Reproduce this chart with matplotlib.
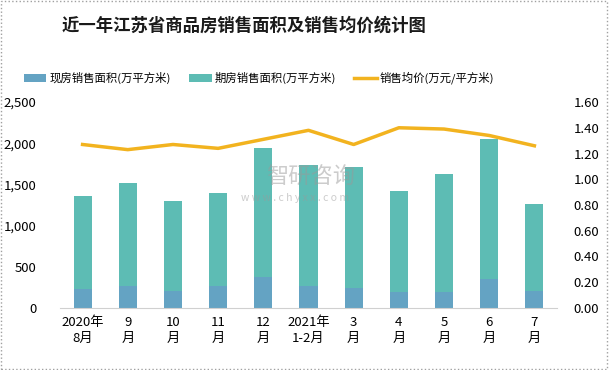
import matplotlib.pyplot as plt
from matplotlib.patches import Rectangle
from matplotlib.ticker import FuncFormatter

plt.rcParams['font.family'] = ['Noto Sans CJK SC', 'DejaVu Sans']

# 月份标签
months = ['2020年\n8月', '9\n月', '10\n月', '11\n月', '12\n月', '2021年\n1-2月',
          '3\n月', '4\n月', '5\n月', '6\n月', '7\n月']

# 现房 / 期房销售面积 (万平方米), 销售均价 (万元/平方米)
current_area = [231, 267, 206, 267, 376, 267, 243, 194, 194, 352, 206]
future_area = [1128, 1250, 1093, 1129, 1566, 1468, 1468, 1226, 1432, 1699, 1056]
avg_price = [1.27, 1.23, 1.27, 1.24, 1.31, 1.38, 1.27, 1.40, 1.39, 1.34, 1.26]

c_blue = '#64A3C3'
c_teal = '#5DBCB4'
c_gold = '#F2B31F'

fig = plt.figure(figsize=(6.09, 3.70), dpi=100)
ax = fig.add_axes([0.0985, 0.1676, 0.8161, 0.5567])
x = range(len(months))

b1 = ax.bar(x, current_area, width=0.4, color=c_blue, label='现房销售面积(万平方米)')
b2 = ax.bar(x, future_area, width=0.4, bottom=current_area, color=c_teal,
            label='期房销售面积(万平方米)')
ax.set_xlim(-0.5, len(months) - 0.5)
ax.set_ylim(0, 2500)
ax.set_yticks(range(0, 2501, 500))
ax.yaxis.set_major_formatter(FuncFormatter(lambda v, p: f'{int(v):,}'))
ax.set_xticks(list(x))
ax.set_xticklabels(months, fontsize=9.5, linespacing=1.3)
ax.tick_params(axis='y', length=0, pad=17, labelsize=9.5)
ax.tick_params(axis='x', length=0, pad=6)
for s in ['top', 'right', 'left']:
    ax.spines[s].set_visible(False)
ax.spines['bottom'].set_color('#D0D0D0')

ax2 = ax.twinx()
l1, = ax2.plot(x, avg_price, color=c_gold, lw=2.5, label='销售均价(万元/平方米)')
ax2.set_ylim(0, 1.6)
ax2.set_yticks([i * 0.2 for i in range(9)])
ax2.yaxis.set_major_formatter(FuncFormatter(lambda v, p: f'{v:.2f}'))
ax2.tick_params(axis='y', length=0, pad=12, labelsize=9.5)
for s in ['top', 'right', 'left', 'bottom']:
    ax2.spines[s].set_visible(False)

fig.legend(handles=[b1, b2, l1], loc='center', bbox_to_anchor=(0.425, 0.79), ncol=3,
           frameon=False, fontsize=8.2, handlelength=2.0, handleheight=0.7,
           columnspacing=1.6, handletextpad=0.25)

fig.text(0.40, 0.932, '近一年江苏省商品房销售面积及销售均价统计图', ha='center', va='center',
         fontsize=12.5, fontweight='bold', color='#1A1A1A')

# 水印
fig.text(0.51, 0.52, '智研咨询', ha='center', va='center', fontsize=16,
         color='#9A9A9A', alpha=0.5)
fig.text(0.485, 0.465, 'w w w . c h y x x . c o m', ha='center', va='center',
         fontsize=7.5, color='#9A9A9A', alpha=0.5)

fig.patches.append(Rectangle((0.002, 0.003), 0.995, 0.994, transform=fig.transFigure,
                             fill=False, edgecolor='#A0A0A0', lw=1, linestyle=':'))

fig.savefig('out.png', dpi=100)
